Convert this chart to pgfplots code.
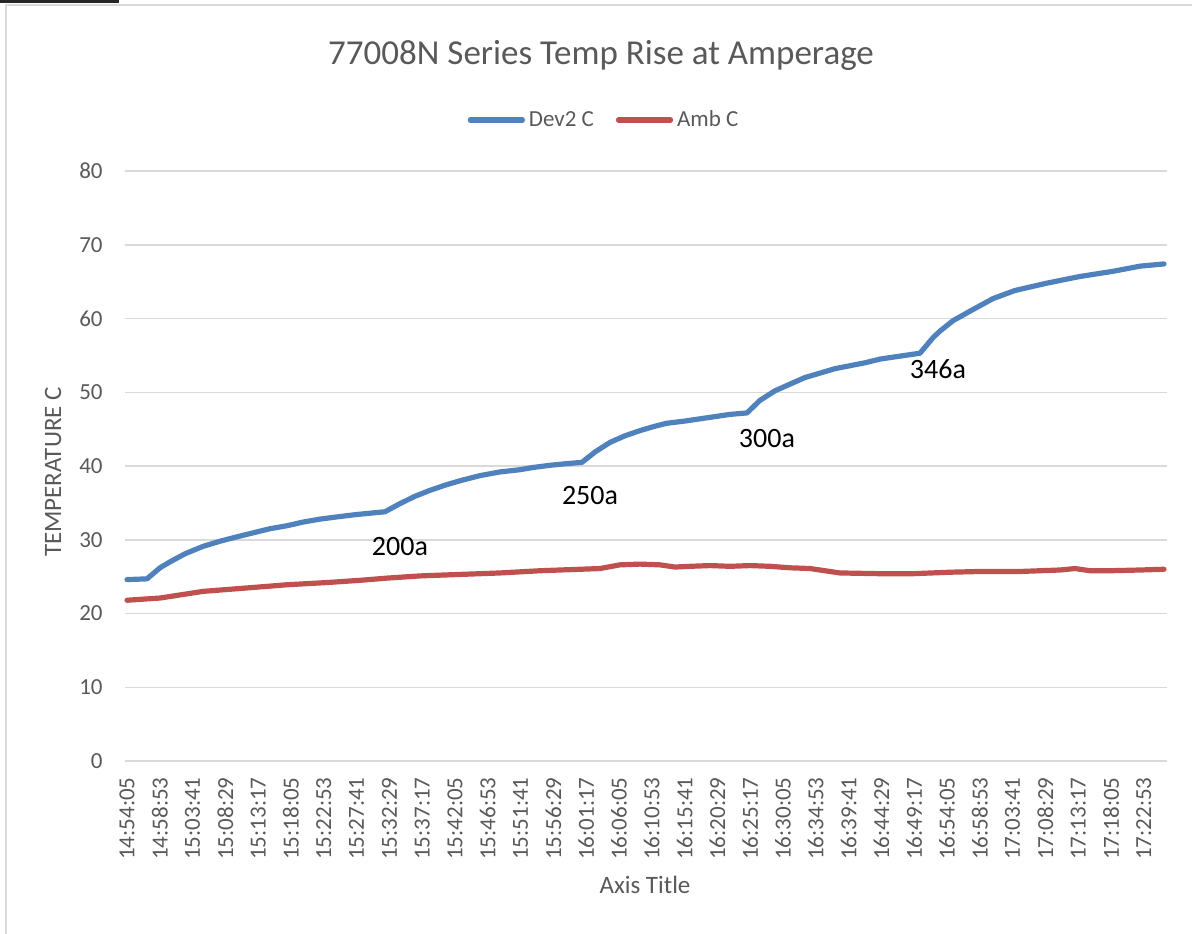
\documentclass[border=0pt]{standalone}
\usepackage{pgfplots}
\pgfplotsset{compat=1.18}
\usepackage{fontspec}
\setmainfont{Carlito}
\definecolor{devblue}{HTML}{4F81BD}
\definecolor{ambred}{HTML}{C0504D}
\definecolor{txtgray}{HTML}{595959}
\definecolor{gridgray}{HTML}{D9D9D9}

\begin{document}
\begin{tikzpicture}
\begin{scope}[x=0.5pt,y=-0.5pt]
\useasboundingbox (0,0) rectangle (1192,933);
\draw[gridgray, line width=1pt] (6,940) -- (6,5) -- (1200,5);
\fill[black!85] (0,0) rectangle (119,2.5);
\node[txtgray, font=\fontsize{17.5}{21}\selectfont] at (601,55) {77008N Series Temp Rise at Amperage};
\node[txtgray, rotate=90, font=\fontsize{12.5}{15}\selectfont] at (53,472) {TEMPERATURE C};
\node[txtgray, font=\fontsize{12.5}{15}\selectfont] at (645,885) {Axis Title};
\end{scope}
\begin{axis}[
  at={(62.5pt,-380.5pt)}, anchor=south west,
  scale only axis, width=521pt, height=295pt,
  xmin=-0.29, xmax=152.2, ymin=0, ymax=80,
  ytick={0,10,20,30,40,50,60,70,80},
  xtick={0,4.8,9.6,14.4,19.2,24,28.8,33.6,38.4,43.2,48,52.8,57.6,62.4,67.2,72,76.8,81.6,86.4,91.2,96,100.8,105.6,110.4,115.2,120,124.8,129.6,134.4,139.2,144,148.8},
  xticklabels={14:54:05,14:58:53,15:03:41,15:08:29,15:13:17,15:18:05,15:22:53,15:27:41,15:32:29,15:37:17,15:42:05,15:46:53,15:51:41,15:56:29,16:01:17,16:06:05,16:10:53,16:15:41,16:20:29,16:25:17,16:30:05,16:34:53,16:39:41,16:44:29,16:49:17,16:54:05,16:58:53,17:03:41,17:08:29,17:13:17,17:18:05,17:22:53},
  /pgf/number format/assume math mode=true,
  axis line style={draw=none},
  major tick length=0pt,
  ymajorgrids,
  grid style={gridgray, line width=0.75pt},
  tick label style={txtgray, font=\fontsize{11.5}{13}\selectfont, inner sep=0pt},
  x tick label style={rotate=90, anchor=east},
  xticklabel shift=8pt,
  yticklabel shift=11pt,
  legend columns=2,
  legend style={at={(0.4607,1.0864)}, anchor=center, draw=none, fill=none,
    font=\fontsize{11.5}{13}\selectfont, text=txtgray,
    /tikz/every even column/.append style={column sep=9pt}},
  legend image code/.code={\draw[#1] (0pt,0pt) -- (26pt,0pt);},
  every axis plot/.append style={line width=2.6pt, line cap=round, line join=round},
  clip=false,
]
\addplot[devblue] coordinates {
(0.00,24.6) (2.93,24.7) (4.83,26.2) (6.29,27.0) (8.49,28.1) (11.12,29.1)
(13.61,29.8) (16.10,30.4) (18.73,31.0) (20.93,31.5) (23.41,31.9) (25.76,32.4)
(28.24,32.8) (30.73,33.1) (33.37,33.4) (35.56,33.6) (37.76,33.8)
(39.95,34.9) (42.15,35.9) (44.34,36.7) (46.54,37.4) (48.73,38.0) (51.66,38.7)
(54.59,39.2) (57.51,39.5) (59.41,39.8) (61.90,40.1) (64.10,40.3) (66.59,40.5)
(68.49,41.9) (70.68,43.2) (72.88,44.1) (75.07,44.8) (77.27,45.4) (79.02,45.8)
(81.66,46.1) (83.85,46.4) (86.05,46.7) (88.24,47.0) (90.73,47.2)
(92.63,48.9) (94.83,50.2) (97.02,51.1) (99.22,52.0) (101.41,52.6) (103.61,53.2)
(105.80,53.6) (108.00,54.0) (110.20,54.5) (112.39,54.8) (114.59,55.1) (116.05,55.3)
(117.95,57.4) (118.98,58.3) (120.88,59.7) (123.37,61.0) (126.73,62.7) (129.95,63.8)
(134.63,64.8) (139.46,65.7) (144.29,66.4) (148.24,67.1) (151.76,67.4)
};
\addlegendentry{Dev2 C}
\addplot[ambred] coordinates {
(0.00,21.8) (4.83,22.1) (11.12,23.0) (18.00,23.5) (23.41,23.9) (29.27,24.2)
(34.10,24.5) (38.05,24.8) (42.88,25.1) (48.73,25.3) (54.59,25.5) (60.44,25.8)
(66.29,26.0) (69.22,26.1) (72.15,26.6) (75.07,26.7) (78.00,26.6) (80.20,26.3)
(82.39,26.4) (85.32,26.5) (88.24,26.4) (91.17,26.5) (94.10,26.4) (97.02,26.2)
(99.95,26.1) (102.15,25.8) (104.34,25.5) (110.20,25.4) (115.02,25.4) (120.44,25.6)
(124.83,25.7) (130.68,25.7) (136.54,25.9) (138.73,26.1) (140.93,25.8) (143.85,25.8)
(148.24,25.9) (151.76,26.0)
};
\addlegendentry{Amb C}
\node[font=\fontsize{14}{16}\selectfont] at (axis cs:39.95,29.15) {200a};
\node[font=\fontsize{14}{16}\selectfont] at (axis cs:67.76,36.0) {250a};
\node[font=\fontsize{14}{16}\selectfont] at (axis cs:93.65,43.7) {300a};
\node[font=\fontsize{14}{16}\selectfont] at (axis cs:118.68,53.1) {346a};
\end{axis}
\end{tikzpicture}
\end{document}
